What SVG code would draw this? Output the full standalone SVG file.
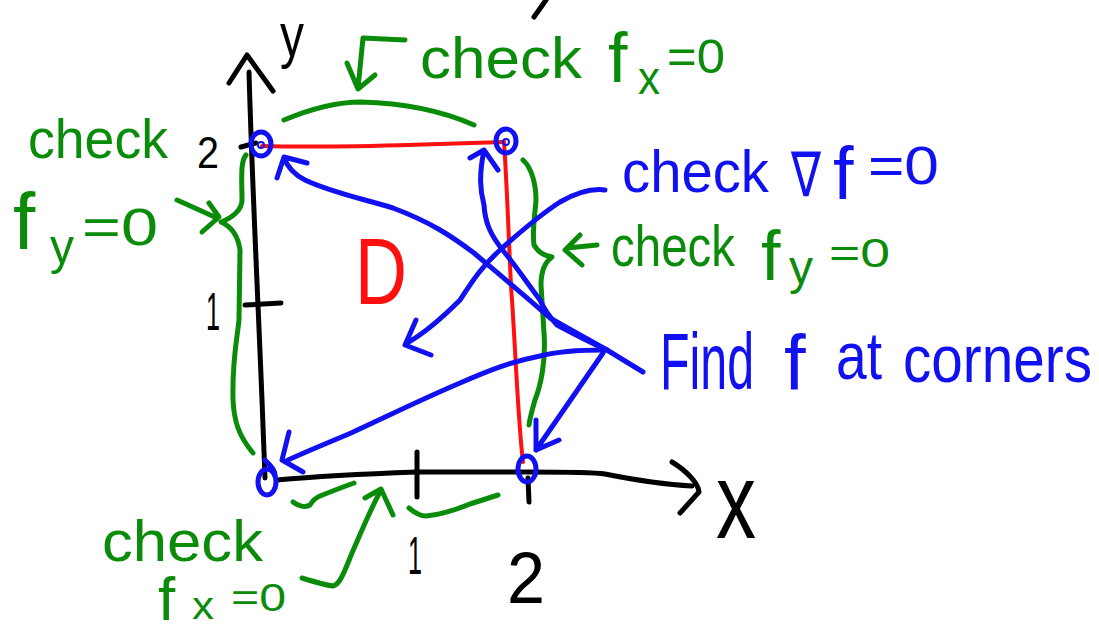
<svg xmlns="http://www.w3.org/2000/svg" width="1099" height="628" viewBox="0 0 1099 628">
<style>
.s{fill:none;stroke-linecap:round;stroke-linejoin:round;stroke-width:5}
.k{stroke:#000}
.r{stroke:#ff1010;stroke-width:4}
.b{stroke:#1010f0}
.g{stroke:#0a8c0a}
text{font-family:"Liberation Sans",Arial,sans-serif}
.tk{fill:#000}
.tg{fill:#0a8c0a}
.tb{fill:#1010f0}
.tr{fill:#ff1010}
</style>
<rect width="1099" height="628" fill="#fff"/>

<g id="axes">
  <path class="s k" d="M249,72 C252,180 258,300 262,400 L265,478"/>
  <path class="s k" d="M229,83 L247,55 L273,91"/>
  <path class="s k" d="M277,480 C320,476 360,474 417,472 L526,472 C560,472 592,472 605,474 C625,478 655,484 692,486"/>
  <path class="s k" d="M672,462 C685,470 698,482 699,492 L680,513"/>
  <path class="s k" d="M245,305 L281,303"/>
  <path class="s k" d="M241,147 L256,143"/>
  <path class="s k" d="M417,452 L417,497"/>
  <path class="s k" d="M528,478 L529,502"/>
  <path class="s k" d="M546,0 L534,17"/>
  <text class="tk" x="280" y="56" font-size="62" textLength="24" lengthAdjust="spacingAndGlyphs">y</text>
  <text class="tk" x="716" y="538" font-size="108" textLength="40" lengthAdjust="spacingAndGlyphs">x</text>
  <text class="tk" x="206" y="330" font-size="54" textLength="14" lengthAdjust="spacingAndGlyphs">1</text>
  <text class="tk" x="197" y="168" font-size="44" textLength="22" lengthAdjust="spacingAndGlyphs">2</text>
  <text class="tk" x="408" y="574" font-size="54" textLength="14" lengthAdjust="spacingAndGlyphs">1</text>
  <text class="tk" x="507" y="603" font-size="72" textLength="38" lengthAdjust="spacingAndGlyphs">2</text>
</g>

<g id="domain">
  <path class="s r" d="M262,146 C330,148 400,145 440,144 L504,142"/>
  <path class="s r" d="M504,142 C508,200 510,280 512,300 C516,360 518,420 523,462"/>
  <text class="tr" x="355" y="304" font-size="95" textLength="52" lengthAdjust="spacingAndGlyphs">D</text>
</g>

<g id="corner-tl"><ellipse class="s b" cx="261" cy="144" rx="10" ry="12"/><circle cx="261" cy="145" r="3" fill="none" stroke="#1010f0" stroke-width="2"/></g>
<g id="corner-tr"><ellipse class="s b" cx="506" cy="141" rx="10" ry="12"/><circle cx="506" cy="142" r="3" fill="none" stroke="#1010f0" stroke-width="2"/></g>
<g id="corner-bl"><ellipse class="s b" cx="267" cy="482" rx="9" ry="13"/><path class="s b" d="M265,460 C270,465 275,470 275,475" stroke-width="3"/></g>
<g id="corner-br"><ellipse class="s b" cx="527" cy="469" rx="9" ry="13"/></g>

<g id="label-top-fx">
  <text class="tg" x="420" y="78" font-size="58" textLength="162" lengthAdjust="spacingAndGlyphs">check</text>
  <text class="tg" x="608" y="82" font-size="70">f</text>
  <text class="tg" x="638" y="94" font-size="46" textLength="22" lengthAdjust="spacingAndGlyphs">x</text>
  <text class="tg" x="667" y="73" font-size="48" textLength="58" lengthAdjust="spacingAndGlyphs">=0</text>
</g>
<g id="label-left-fy">
  <text class="tg" x="28" y="158" font-size="56" textLength="140" lengthAdjust="spacingAndGlyphs">check</text>
  <text class="tg" x="13" y="249" font-size="80">f</text>
  <text class="tg" x="50" y="264" font-size="50" textLength="24" lengthAdjust="spacingAndGlyphs">y</text>
  <text class="tg" x="82" y="245" font-size="52" textLength="76" lengthAdjust="spacingAndGlyphs">=0</text>
</g>
<g id="label-right-fy">
  <text class="tg" x="611" y="266" font-size="58" textLength="124" lengthAdjust="spacingAndGlyphs">check</text>
  <text class="tg" x="761" y="280" font-size="70">f</text>
  <text class="tg" x="789" y="284" font-size="48" textLength="24" lengthAdjust="spacingAndGlyphs">y</text>
  <text class="tg" x="829" y="267" font-size="40" textLength="61" lengthAdjust="spacingAndGlyphs">=0</text>
</g>
<g id="label-bottom-fx">
  <text class="tg" x="102" y="561" font-size="58" textLength="161" lengthAdjust="spacingAndGlyphs">check</text>
  <text class="tg" x="158" y="620" font-size="62">f</text>
  <text class="tg" x="192" y="619" font-size="38" textLength="22" lengthAdjust="spacingAndGlyphs">x</text>
  <text class="tg" x="231" y="611" font-size="38" textLength="55" lengthAdjust="spacingAndGlyphs">=0</text>
</g>
<g id="label-grad">
  <text class="tb" x="622" y="192" font-size="60" textLength="147" lengthAdjust="spacingAndGlyphs">check</text>
  <text class="tb" x="791" y="196" font-size="62" textLength="30" lengthAdjust="spacingAndGlyphs" style="font-family:'DejaVu Sans',sans-serif">∇</text>
  <text class="tb" x="833" y="199" font-size="74">f</text>
  <text class="tb" x="868" y="184" font-size="53" textLength="71" lengthAdjust="spacingAndGlyphs">=0</text>
</g>
<g id="label-corners">
  <text class="tb" x="660" y="389" font-size="80" textLength="94" lengthAdjust="spacingAndGlyphs">Find</text>
  <text class="tb" x="784" y="390" font-size="78">f</text>
  <text class="tb" x="836" y="379" font-size="66" textLength="46" lengthAdjust="spacingAndGlyphs">at</text>
  <text class="tb" x="903" y="382" font-size="66" textLength="189" lengthAdjust="spacingAndGlyphs">corners</text>
</g>

<g id="connectors">
  <path class="s g" d="M284,120 C320,105 345,102 361,102 C400,103 440,110 474,125"/>
  <path class="s g" d="M405,40 L363,38 L358,88 M347,63 L358,89 L375,75"/>
  <path class="s g" d="M246,155 C240,162 242,180 242,200 C242,210 232,218 221,222 C230,226 238,235 240,250 L239,320 C237,340 232,360 233,400 C234,420 238,435 253,453"/>
  <path class="s g" d="M177,200 L217,218 M209,203 L219,217 L202,232"/>
  <path class="s g" d="M523,160 C532,168 536,185 536,200 C535,215 532,230 534,245 C538,252 545,256 552,257 C545,262 541,270 541,285 L544,333 C546,360 541,385 535,400 C532,410 530,418 529,425"/>
  <path class="s g" d="M597,245 L567,248 M580,235 L565,250 L582,265"/>
  <path class="s g" d="M293,502 C298,506 305,508 310,505 C313,500 315,498 320,496 C330,492 340,488 354,483"/>
  <path class="s g" d="M302,578 C315,582 325,585 333,586 C340,585 345,570 352,553 C360,535 370,510 381,490 M365,498 L381,489 L393,515"/>
  <path class="s g" d="M409,508 C415,513 420,516 426,516 C440,515 455,510 470,504 L498,495"/>
  <path class="s b" d="M643,372 L607,350"/>
  <path class="s b" d="M607,350 C580,335 562,325 550,318 C530,300 500,275 474,253 C450,235 430,222 393,208 C360,198 330,192 305,180 C295,175 288,168 284,158 M277,178 L284,157 L307,163"/>
  <path class="s b" d="M607,350 C585,340 570,332 557,325 C548,315 543,307 540,300 C525,280 515,265 505,253 C490,235 485,222 484,205 C480,190 479,175 484,150 M470,158 L484,150 L498,170"/>
  <path class="s b" d="M605,350 C580,350 555,352 540,356 C510,362 490,370 460,383 C420,400 390,415 351,433 C330,442 310,450 288,460 M289,432 L282,460 L303,472"/>
  <path class="s b" d="M603,353 L536,450 M536,420 L536,450 L559,440"/>
  <path class="s b" d="M605,190 C590,188 576,193 560,202 C540,215 520,232 500,250 C480,268 470,285 460,300 C440,320 425,333 407,343 M416,320 L405,345 L431,355"/>
</g>
</svg>
